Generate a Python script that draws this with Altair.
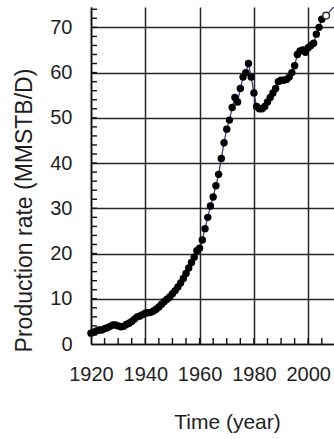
import altair as alt
import pandas as pd

# Annual production rate, MMSTB/D
years = list(range(1920, 2006))
rates = [
    2.4, 2.6, 2.9, 3.1, 3.1, 3.4, 3.6, 3.9, 4.2, 4.2,
    4.0, 3.8, 3.9, 4.3, 4.6, 5.0, 5.5, 6.0, 6.2, 6.5,
    6.8, 6.9, 7.0, 7.3, 7.7, 8.2, 8.8, 9.4, 9.9, 10.4,
    11.1, 11.8, 12.6, 13.5, 14.5, 15.6, 16.8, 18.0, 19.2, 20.6,
    21.2, 23.0, 25.5, 28.0, 30.5, 32.5, 35.0, 37.5, 41.0, 44.5,
    47.5, 49.5, 52.3, 54.5, 53.5, 56.5, 59.0, 60.0, 62.0, 59.0,
    55.5, 52.5, 52.0, 52.0, 52.5, 53.5, 54.5, 55.5, 56.5, 58.0,
    58.3, 58.3, 58.5, 59.0, 60.0, 61.5, 64.0, 64.8, 65.0, 64.5,
    65.5, 66.0, 66.5, 68.5, 70.0, 71.8,
]

# Latest estimate (open marker) and continuation of the trend line
open_years = [2006.6]
open_rates = [72.6]
trend_years = years + open_years + [2009.5]
trend_rates = rates + open_rates + [74.6]

# Tick label values and minor tick positions
x_labels = [1920, 1940, 1960, 1980, 2000]
y_labels = [0, 10, 20, 30, 40, 50, 60, 70]
x_minor = list(range(1925, 2010, 5))
y_minor = list(range(2, 75, 2))

FONT = "Liberation Sans"
TXT = "#1e1e1e"
PLOT_W, PLOT_H = 243, 337

pts = pd.DataFrame({"year": years, "rate": rates})
trend = pd.DataFrame({"year": trend_years, "rate": trend_rates})
opn = pd.DataFrame({"year": open_years, "rate": open_rates})
xm = pd.DataFrame({"year": x_minor})
ym = pd.DataFrame({"rate": y_minor})

xscale = alt.Scale(domain=[1920, 2009.5], nice=False, zero=False)
yscale = alt.Scale(domain=[0, 74.5], nice=False, zero=True)

x_axis = alt.Axis(
    values=x_labels, format="d", grid=True, gridColor="#262626", gridWidth=1.5,
    domainColor="#111", domainWidth=1.6, ticks=False,
    labelFont=FONT, labelFontSize=20, labelColor=TXT, labelPadding=20,
    labelFlush=False, labelOverlap=False, labelBound=False,
    title="Time (year)", titleFont=FONT, titleFontSize=21, titleFontWeight="normal",
    titleColor=TXT, titleX=136, titleY=78, titleAlign="center", titleBaseline="middle",
)
y_axis = alt.Axis(
    values=y_labels, grid=True, gridColor="#262626", gridWidth=1.5,
    domainColor="#111", domainWidth=1.6, ticks=False,
    labelFont=FONT, labelFontSize=20, labelColor=TXT, labelPadding=19,
    labelFlush=False, labelOverlap=False,
    title="Production rate (MMSTB/D)", titleFont=FONT, titleFontSize=23,
    titleFontWeight="normal", titleColor=TXT, titleAngle=270,
    titleX=-67, titleY=203, titleAlign="center", titleBaseline="middle",
)

X = alt.X("year:Q", scale=xscale, axis=x_axis)
Y = alt.Y("rate:Q", scale=yscale, axis=y_axis)

line = alt.Chart(trend).mark_line(color="#2a3580", strokeWidth=1.2, clip=True).encode(x=X, y=Y)

dots = alt.Chart(pts).mark_circle(color="#000", opacity=1, size=55).encode(x=X, y=Y)

hollow = alt.Chart(opn).mark_point(
    shape="circle", filled=True, fill="white", stroke="#333", strokeWidth=1.5, size=45, opacity=1
).encode(x=X, y=Y)

x_ticks = alt.Chart(xm).mark_rule(color="#111", strokeWidth=1.4).encode(
    x=X,
    y=alt.value(PLOT_H - 6),
    y2=alt.value(PLOT_H),
)

y_ticks = alt.Chart(ym).mark_rule(color="#111", strokeWidth=1.4).encode(
    y=Y,
    x=alt.value(0),
    x2=alt.value(6),
)

chart = (
    alt.layer(line, dots, hollow, x_ticks, y_ticks)
    .properties(
        width=PLOT_W,
        height=PLOT_H,
        autosize=alt.AutoSizeParams(type="none"),
        padding={"left": 91, "top": 7, "right": 0, "bottom": 95},
        background="white",
    )
    .configure_view(stroke=None)
)

chart.save("out.html", embed_options={"renderer": "svg", "actions": False})
